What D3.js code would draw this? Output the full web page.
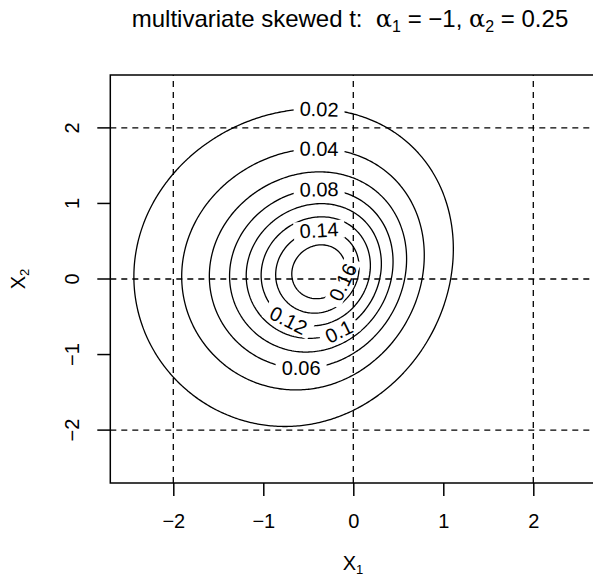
<!DOCTYPE html>
<html>
<head>
<meta charset="utf-8">
<script src="https://cdn.jsdelivr.net/npm/d3@7"></script>
<style>
  html, body { margin: 0; padding: 0; background: #fff; }
  text { font-family: "Liberation Sans", Arial, Helvetica, sans-serif; fill: #000; }
</style>
</head>
<body>
<svg id="chart" width="593" height="580"></svg>
<script>
// ---- data ----
const levels = [0.02, 0.04, 0.06, 0.08, 0.1, 0.12, 0.14, 0.16];
const levelLabels = ["0.02", "0.04", "0.06", "0.08", "0.1", "0.12", "0.14", "0.16"];
// label direction (degrees, around the mode) for each level
const labelAngles = [90, 90, -101, 90, -71, -122, 90, -23];
const alpha = [-1, 0.25];
const xi = [0, 0];
const omega = [[1.078, 0], [0, 1.09]];
const nu = 2.7;
const xTicks = [-2, -1, 0, 1, 2];
const yTicks = [-2, -1, 0, 1, 2];
const gridX = [-2, 0, 2];
const gridY = [-2, 0, 2];
const xDomain = [-2.7, 2.7];
const yDomain = [-2.7, 2.7];

// ---- math helpers ----
function betacf(a, b, x) {
  const MAXIT = 200, EPS = 3e-14, FPMIN = 1e-300;
  let qab = a + b, qap = a + 1, qam = a - 1, c = 1, d = 1 - qab * x / qap;
  if (Math.abs(d) < FPMIN) d = FPMIN;
  d = 1 / d; let h = d;
  for (let m = 1; m <= MAXIT; m++) {
    const m2 = 2 * m;
    let aa = m * (b - m) * x / ((qam + m2) * (a + m2));
    d = 1 + aa * d; if (Math.abs(d) < FPMIN) d = FPMIN;
    c = 1 + aa / c; if (Math.abs(c) < FPMIN) c = FPMIN;
    d = 1 / d; h *= d * c;
    aa = -(a + m) * (qab + m) * x / ((a + m2) * (qap + m2));
    d = 1 + aa * d; if (Math.abs(d) < FPMIN) d = FPMIN;
    c = 1 + aa / c; if (Math.abs(c) < FPMIN) c = FPMIN;
    d = 1 / d; const del = d * c; h *= del;
    if (Math.abs(del - 1) < EPS) break;
  }
  return h;
}
function lgamma(z) {
  const g = 7, p = [0.99999999999980993, 676.5203681218851, -1259.1392167224028,
    771.32342877765313, -176.61502916214059, 12.507343278686905,
    -0.13857109526572012, 9.9843695780195716e-6, 1.5056327351493116e-7];
  if (z < 0.5) return Math.log(Math.PI / Math.abs(Math.sin(Math.PI * z))) - lgamma(1 - z);
  z -= 1; let x = p[0];
  for (let i = 1; i < g + 2; i++) x += p[i] / (z + i);
  const t = z + g + 0.5;
  return 0.5 * Math.log(2 * Math.PI) + (z + 0.5) * Math.log(t) - t + Math.log(x);
}
function ibeta(x, a, b) {
  if (x <= 0) return 0; if (x >= 1) return 1;
  const bt = Math.exp(lgamma(a + b) - lgamma(a) - lgamma(b) + a * Math.log(x) + b * Math.log(1 - x));
  if (x < (a + 1) / (a + b + 2)) return bt * betacf(a, b, x) / a;
  return 1 - bt * betacf(b, a, 1 - x) / b;
}
function tcdf(t, k) {
  const x = k / (k + t * t);
  const tail = 0.5 * ibeta(x, k / 2, 0.5);
  return t > 0 ? 1 - tail : tail;
}
// bivariate skew-t density (Azzalini & Capitanio)
const det = omega[0][0] * omega[1][1] - omega[0][1] * omega[1][0];
const inv = [[omega[1][1] / det, -omega[0][1] / det], [-omega[1][0] / det, omega[0][0] / det]];
const w = [Math.sqrt(omega[0][0]), Math.sqrt(omega[1][1])];
function dmst(x1, x2) {
  const z1 = x1 - xi[0], z2 = x2 - xi[1];
  const Q = z1 * (inv[0][0] * z1 + inv[0][1] * z2) + z2 * (inv[1][0] * z1 + inv[1][1] * z2);
  const t2 = Math.pow(1 + Q / nu, -(nu / 2 + 1)) / (2 * Math.PI * Math.sqrt(det));
  const lin = alpha[0] * z1 / w[0] + alpha[1] * z2 / w[1];
  return 2 * t2 * tcdf(lin * Math.sqrt((nu + 2) / (Q + nu)), nu + 2);
}

// ---- layout ----
const svg = d3.select("#chart");
const x = d3.scaleLinear().domain(xDomain).range([110.3, 596.3]);
const y = d3.scaleLinear().domain(yDomain).range([483, 75]);

// ---- density grid + contours ----
const n = 271;
const step = (xDomain[1] - xDomain[0]) / (n - 1);
const values = new Array(n * n);
let best = -1, mode = [0, 0];
for (let j = 0; j < n; j++) {
  for (let i = 0; i < n; i++) {
    const vx = xDomain[0] + i * step, vy = yDomain[0] + j * step;
    const v = dmst(vx, vy);
    values[j * n + i] = v;
    if (v > best) { best = v; mode = [vx, vy]; }
  }
}
const contours = d3.contours().size([n, n]).thresholds(levels)(values);
const toPx = (gx, gy) => [x(xDomain[0] + (gx - 0.5) * step), y(yDomain[0] + (gy - 0.5) * step)];
const path = d3.geoPath(d3.geoTransform({
  point(gx, gy) { const p = toPx(gx, gy); this.stream.point(p[0], p[1]); }
}));

const defs = svg.append("defs");
defs.append("clipPath").attr("id", "plotclip").append("rect")
  .attr("x", x(xDomain[0])).attr("y", y(yDomain[1]))
  .attr("width", x(xDomain[1]) - x(xDomain[0])).attr("height", y(yDomain[0]) - y(yDomain[1]));
const mask = defs.append("mask").attr("id", "labelmask").attr("maskUnits", "userSpaceOnUse")
  .attr("x", 0).attr("y", 0).attr("width", 593).attr("height", 580);
mask.append("rect").attr("x", 0).attr("y", 0).attr("width", 593).attr("height", 580).attr("fill", "#fff");

const plot = svg.append("g").attr("clip-path", "url(#plotclip)");
plot.append("g").attr("mask", "url(#labelmask)")
  .selectAll("path").data(contours).join("path")
  .attr("d", path).attr("fill", "none").attr("stroke", "#000").attr("stroke-width", 1.3);

// labels
const modePx = [x(mode[0]), y(mode[1])];
const labelG = plot.append("g");
contours.forEach((c, k) => {
  let pts = [];
  c.coordinates.forEach(poly => { if (poly[0].length > pts.length) pts = poly[0].map(p => toPx(p[0], p[1])); });
  if (!pts.length) return;
  const target = labelAngles[k] * Math.PI / 180;
  let bi = 0, bd = Infinity;
  pts.forEach((p, i) => {
    const a = Math.atan2(-(p[1] - modePx[1]), p[0] - modePx[0]);
    let d = Math.abs(a - target); if (d > Math.PI) d = 2 * Math.PI - d;
    if (d < bd) { bd = d; bi = i; }
  });
  const m = pts.length;
  const p0 = pts[(bi - 3 + m) % m], p1 = pts[(bi + 3) % m];
  let ang = Math.atan2(p1[1] - p0[1], p1[0] - p0[0]) * 180 / Math.PI;
  if (ang > 90) ang -= 180; if (ang <= -90) ang += 180;
  const P = pts[bi];
  const t = labelG.append("text")
    .attr("transform", `translate(${P[0]},${P[1]}) rotate(${ang})`)
    .attr("text-anchor", "middle").attr("dy", "0.36em")
    .attr("font-size", 20).text(levelLabels[k]);
  const bw = t.node().getComputedTextLength();
  mask.append("rect")
    .attr("transform", `translate(${P[0]},${P[1]}) rotate(${ang})`)
    .attr("x", -bw / 2 - 6).attr("y", -9).attr("width", bw + 12).attr("height", 18).attr("fill", "#000");
});

// grid lines (dashed)
gridX.forEach(v => plot.append("line").attr("x1", x(v)).attr("x2", x(v))
  .attr("y1", y(yDomain[0])).attr("y2", y(yDomain[1]))
  .attr("stroke", "#000").attr("stroke-width", 1.3).attr("stroke-dasharray", "6,5"));
gridY.forEach(v => plot.append("line").attr("y1", y(v)).attr("y2", y(v))
  .attr("x1", x(xDomain[0])).attr("x2", x(xDomain[1]))
  .attr("stroke", "#000").attr("stroke-width", 1.3).attr("stroke-dasharray", "6,5"));

// box
svg.append("rect").attr("x", x(xDomain[0])).attr("y", y(yDomain[1]))
  .attr("width", x(xDomain[1]) - x(xDomain[0])).attr("height", y(yDomain[0]) - y(yDomain[1]))
  .attr("fill", "none").attr("stroke", "#000").attr("stroke-width", 1.5);

// axes
const fmt = v => (v < 0 ? "\u2212" + Math.abs(v) : String(v));
const xAxis = d3.axisBottom(x).tickValues(xTicks).tickSize(13).tickSizeOuter(0).tickPadding(18).tickFormat(fmt);
const gx = svg.append("g").attr("transform", `translate(0,${y(yDomain[0])})`).call(xAxis);
gx.select(".domain").remove();
gx.selectAll("line").attr("stroke-width", 1.5);
gx.selectAll("text").attr("font-size", 20).attr("font-family", "Liberation Sans, Arial, sans-serif").attr("fill", "#000");

const gy = svg.append("g").attr("transform", `translate(${x(xDomain[0])},0)`);
yTicks.forEach(v => {
  gy.append("line").attr("x1", -13).attr("x2", 0).attr("y1", y(v)).attr("y2", y(v))
    .attr("stroke", "#000").attr("stroke-width", 1.5);
  gy.append("text").attr("transform", `translate(-31,${y(v)}) rotate(-90)`)
    .attr("text-anchor", "middle").attr("font-size", 20).text(fmt(v));
});

// axis titles
const xl = svg.append("text").attr("x", 353).attr("y", 570).attr("text-anchor", "middle").attr("font-size", 20);
xl.append("tspan").text("X");
xl.append("tspan").attr("font-size", 13).attr("dy", 4).text("1");

const yl = svg.append("text").attr("transform", `translate(25,${y(0)}) rotate(-90)`).attr("text-anchor", "middle").attr("font-size", 20);
yl.append("tspan").text("X");
yl.append("tspan").attr("font-size", 13).attr("dy", 4).text("2");

// title
const tt = svg.append("text").attr("x", 350).attr("y", 27).attr("text-anchor", "middle").attr("font-size", 24);
tt.append("tspan").text("multivariate skewed t:\u00a0\u00a0");
tt.append("tspan").attr("font-family", "DejaVu Serif, serif").text("\u03b1");
tt.append("tspan").attr("font-size", 16).attr("dy", 5).text("1");
tt.append("tspan").attr("dy", -5).text("\u00a0= \u22121, ");
tt.append("tspan").attr("font-family", "DejaVu Serif, serif").text("\u03b1");
tt.append("tspan").attr("font-size", 16).attr("dy", 5).text("2");
tt.append("tspan").attr("dy", -5).text("\u00a0= 0.25");
</script>
</body>
</html>
